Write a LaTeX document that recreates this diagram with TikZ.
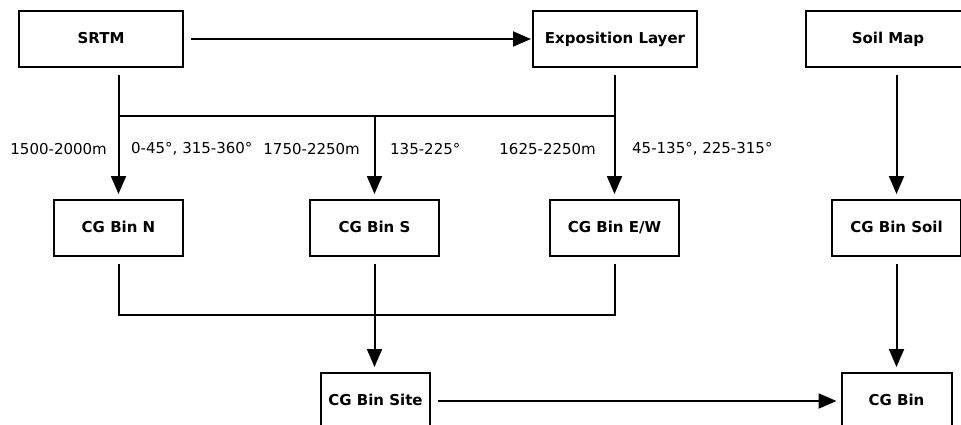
\documentclass[tikz,border=0pt]{standalone}
\usepackage{fontspec}
\setmainfont{DejaVu Sans}
\usetikzlibrary{arrows.meta}
\tikzset{
  box/.style={draw, line width=2pt, minimum height=56pt, inner sep=0pt,
    text height=1.8ex, text depth=0.1ex,
    font=\fontsize{15}{18}\selectfont\bfseries},
  bigbox/.style={box, minimum width=164pt},
  binbox/.style={box, minimum width=129pt},
  link/.style={line width=2pt, -{Triangle[length=18pt,width=15pt]},
    shorten <=7pt, shorten >=5pt},
  branch/.style={line width=2pt, -{Triangle[length=18pt,width=15pt]},
    shorten >=5pt},
  merge/.style={line width=2pt, shorten <=7pt, shorten >=7pt},
  rangelabel/.style={font=\fontsize{15}{18}\selectfont, inner sep=0pt}
}
\begin{document}
\begin{tikzpicture}[x=1pt,y=-1pt]
  \useasboundingbox (0,0) rectangle (961,424);
  \clip (0,0) rectangle (961,424);
  \draw
    (101,39) node[bigbox] (srtm){SRTM}
    (615,39) node[bigbox] (expo){Exposition Layer}
    (888,39) node[bigbox] (soil){Soil Map}
    (118.5,228) node[binbox] (binN){CG Bin N}
    (374.5,228) node[binbox] (binS){CG Bin S}
    (614.5,228) node[binbox] (binEW){CG Bin E/W}
    (896.5,228) node[binbox] (binSoil){CG Bin Soil}
    (375.5,401) node[box, minimum width=109pt] (site){CG Bin Site}
    (896.5,401) node[box, minimum width=110pt] (bin){CG Bin};
  \coordinate (forkN) at (118.5,116);
  \coordinate (forkS) at (374.5,116);
  \coordinate (forkEW) at (614.5,116);
  \begin{scope}
    \draw[link, shorten >=1pt] (srtm) -- (expo);
    \draw[link] (srtm.south -| binN.north) -- (binN.north);
    \draw[link] (expo.south -| binEW.north) -- (binEW.north);
    \draw[line width=2pt] (forkN) -- (forkEW);
    \draw[branch] (forkS) -- (binS.north);
    \draw[link] (soil.south -| binSoil.north) -- (binSoil.north);
    \draw[merge] (binN.south) -- ++(0,58) -| (binEW.south);
    \draw[link] (binS.south) -- (binS.south |- site.north);
    \draw[link] (binSoil.south) -- (bin.north);
    \draw[link, shorten >=4pt] (site) -- (bin);
  \end{scope}
  \node[rangelabel, anchor=east] (lN) at (107,149) {1500-2000m};
  \node[rangelabel, anchor=west] (rN) at (131,149) {0-45°, 315-360°};
  \node[rangelabel, anchor=east] (lS) at (360,149) {1750-2250m};
  \node[rangelabel, anchor=west] (rS) at (390,149) {135-225°};
  \node[rangelabel, anchor=east] (lEW) at (596,149) {1625-2250m};
  \node[rangelabel, anchor=west] (rEW) at (632,149) {45-135°, 225-315°};
\end{tikzpicture}
\end{document}
